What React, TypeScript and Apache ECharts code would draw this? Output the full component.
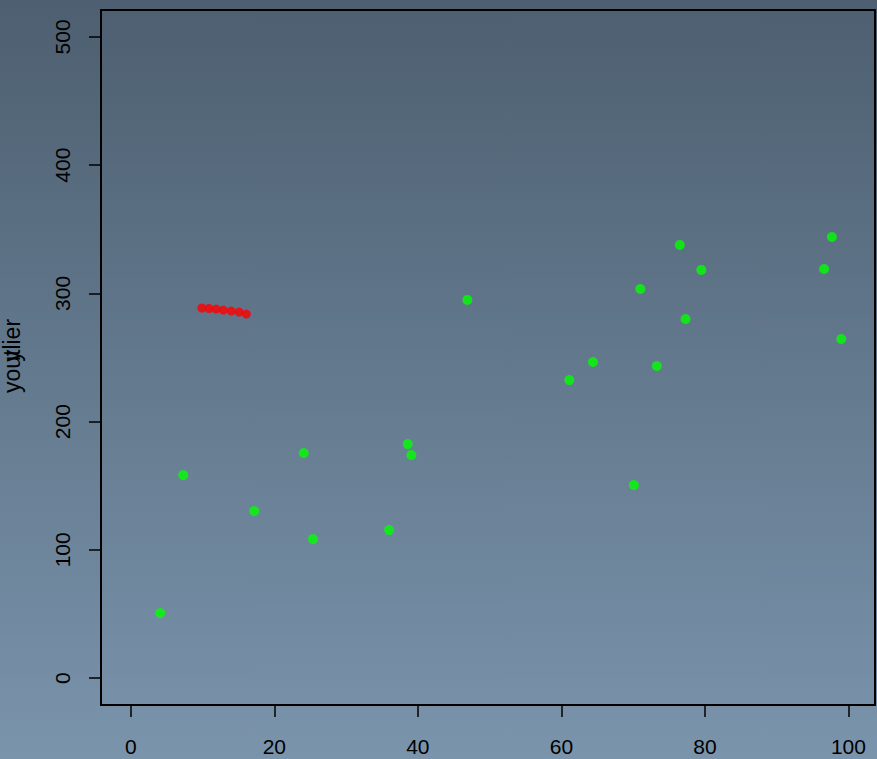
import React, { useEffect, useRef } from "react";
import * as echarts from "echarts";

const greenX = [4.1, 7.3, 17.2, 24.1, 25.4, 36.0, 38.6, 39.1, 46.9, 61.1, 64.4, 70.1, 71.0, 73.3, 76.5, 77.3, 79.5, 96.6, 97.7, 99.0];
const greenY = [50.7, 158.3, 130.3, 175.5, 108.4, 115.4, 182.5, 173.9, 294.9, 232.4, 246.5, 150.5, 303.4, 243.4, 337.8, 280.0, 318.3, 319.0, 344.0, 264.4];
const redX = [9.9, 10.9, 11.9, 12.9, 14.0, 15.1, 16.1];
const redY = [288.6, 288.2, 287.8, 287.0, 286.2, 285.4, 283.9];
const xTicks = [0, 20, 40, 60, 80, 100];
const yTicks = [0, 100, 200, 300, 400, 500];
const yLabels = ["youtlier", "y"];

export default function App() {
  const ref = useRef<HTMLDivElement>(null);
  useEffect(() => {
    if (!ref.current) return;
    const chart = echarts.init(ref.current, null, { renderer: "svg" });
    const font = "'Liberation Sans', Arial, sans-serif";
    chart.setOption({
      animation: false,
      backgroundColor: new echarts.graphic.LinearGradient(0, 0, 0, 1, [
        { offset: 0, color: "#4d5f70" },
        { offset: 1, color: "#7a94ac" },
      ]),
      grid: {
        left: 101,
        top: 10,
        width: 774,
        height: 695,
        show: true,
        borderColor: "#000",
        borderWidth: 2,
        backgroundColor: "transparent",
      },
      xAxis: {
        type: "value",
        min: -4.15,
        max: 103.7,
        splitLine: { show: false },
        axisLine: { show: false, onZero: false },
        axisTick: { show: true, inside: false, length: 12, customValues: xTicks, lineStyle: { color: "#000", width: 1.5 } },
        axisLabel: { customValues: xTicks, margin: 31, color: "#000", fontSize: 21, fontFamily: font },
      },
      yAxis: {
        type: "value",
        min: -21,
        max: 521,
        splitLine: { show: false },
        axisLine: { show: false, onZero: false },
        axisTick: { show: true, inside: false, length: 12, customValues: yTicks, lineStyle: { color: "#000", width: 1.5 } },
        axisLabel: { customValues: yTicks, rotate: 90, margin: 28, color: "#000", fontSize: 21, fontFamily: font },
      },
      graphic: yLabels.map((t) => ({
        type: "text",
        x: 12,
        y: 356,
        rotation: Math.PI / 2,
        style: { text: t, fill: "#000", font: `23px ${font}`, align: "center", verticalAlign: "middle" },
      })),
      series: [
        {
          type: "scatter",
          data: greenX.map((x, i) => [x, greenY[i]]),
          symbol: "circle",
          symbolSize: 10,
          itemStyle: { color: "#00ff00" },
        },
        {
          type: "scatter",
          data: redX.map((x, i) => [x, redY[i]]),
          symbol: "circle",
          symbolSize: 9,
          itemStyle: { color: "#ff0000" },
        },
      ],
    });
    return () => chart.dispose();
  }, []);
  return <div ref={ref} style={{ position: "fixed", left: 0, top: 0, width: 877, height: 759 }} />;
}
